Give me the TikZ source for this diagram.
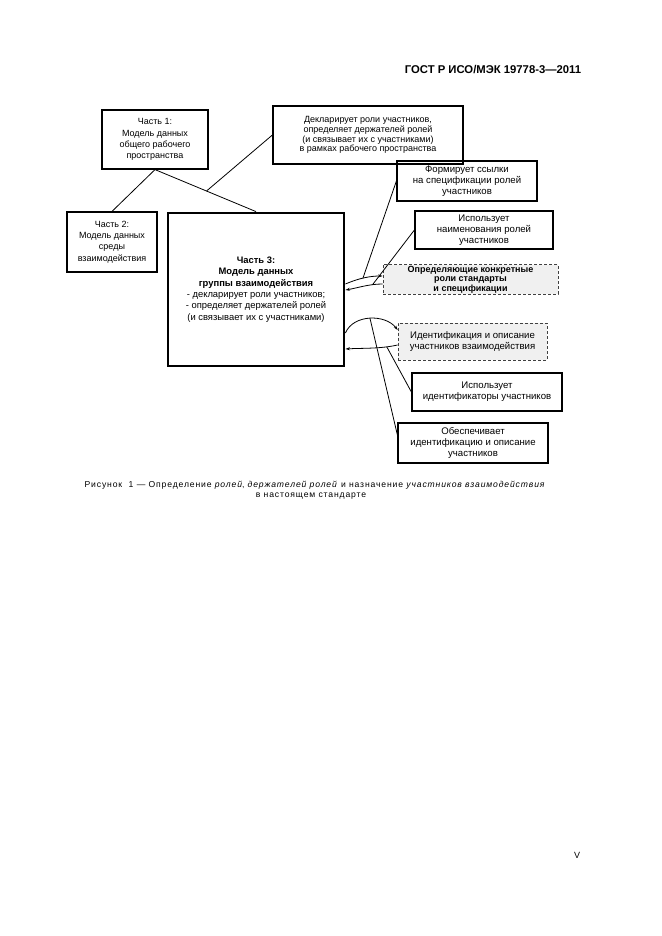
\documentclass[tikz,border=0pt]{standalone}
\usepackage{fontspec}
\setmainfont{Liberation Sans}
\newfontfamily\capfont[LetterSpace=10]{Liberation Sans}
\usetikzlibrary{arrows.meta,positioning}

\begin{document}
\begin{tikzpicture}[x=1pt,y=-1pt,
  box/.style={draw, line width=1.2pt, align=center, inner sep=1pt,
    font=\fontsize{9.6}{10.7}\selectfont},
  std/.style={box, draw=black!75, fill=black!6, line width=0.8pt,
    dash pattern=on 3pt off 2pt},
  link/.style={line width=0.8pt},
  arr/.style={link, -{Stealth[length=4.5pt,width=3pt]}}]
  \useasboundingbox (0,0) rectangle (661,936);
  %header
  \node[font=\bfseries\fontsize{11.3}{13}\selectfont] (gost) at (493,70)
    {ГОСТ Р ИСО/МЭК 19778-3—2011};

  %parts
  \node[box, font=\fontsize{9}{11.3}\selectfont, minimum width=106, minimum height=59] (p1) at (155,139.5)
    {Часть 1:\\Модель данных\\общего рабочего\\пространства};
  \node[box, font=\fontsize{9}{11.3}\selectfont, minimum width=90, minimum height=60] (p2) at (112,242)
    {Часть 2:\\Модель данных\\среды\\взаимодействия};
  \node[box, font=\fontsize{9.4}{11.3}\selectfont, line width=2.8pt, minimum width=176, minimum height=153] (p3) at (256,289.5)
    {\textbf{Часть 3:}\\\textbf{Модель данных}\\\textbf{группы взаимодействия}\\
     - декларирует роли участников;\\- определяет держателей ролей\\
     (и связывает их с участниками)};
  \node[box, font=\fontsize{9}{9.8}\selectfont, minimum width=190, minimum height=58] (decl) at (368,135)
    {Декларирует роли участников,\\определяет держателей ролей\\
     (и связывает их с участниками)\\в рамках рабочего пространства};

  %right side
  \node[box, minimum width=140, minimum height=40] (fr) at (467,181)
    {Формирует ссылки\\на спецификации ролей\\участников};
  \node[box, minimum width=138, minimum height=38] (un) at (484,230)
    {Использует\\наименования ролей\\участников};
  \node[std, font=\fontsize{9}{9.6}\selectfont, minimum width=175, minimum height=29] (s1) at (470.5,279.5)
    {\textbf{Определяющие конкретные}\\\textbf{роли стандарты}\\\textbf{и спецификации}};
  \node[std, minimum width=149, minimum height=37] (s2) at (472.5,341.5)
    {Идентификация и описание\\участников взаимодействия};
  \node[box, minimum width=150, minimum height=38] (ui) at (487,392)
    {Использует\\идентификаторы участников};
  \node[box, minimum width=150, minimum height=40] (pv) at (473,443)
    {Обеспечивает\\идентификацию и описание\\участников};

  %links
  \draw[link] (p1.south) -- (p2.north);
  \draw[link] (p1.south) -- coordinate[pos=0.51] (j) (p3.north);
  \draw[link] (decl.west) -- (j);

  \draw[arr] (p3.east |- 0,284) .. controls +(14,-6) and +(-12,0) .. (s1.west |- 0,276)
    coordinate[pos=0.45] (u1);
  \draw[arr] (s1.west |- 0,284) .. controls +(-14,0) and +(12,-2) .. (p3.east |- 0,290)
    coordinate[pos=0.25] (u2);
  \draw[link] (fr.west) -- (u1);
  \draw[link] (un.west) -- (u2);

  \draw[arr] (p3.east |- 0,333) .. controls +(8,-19) and +(-12,-16) .. (s2.west |- 0,330)
    coordinate[pos=0.5] (u3);
  \draw[arr] (s2.west |- 0,345) .. controls +(-18,4) and +(16,-1) .. (p3.east |- 0,349)
    coordinate[pos=0.2] (u4);
  \draw[link] (ui.west) -- (u4);
  \draw[link] (pv.west |- 0,435) -- (u3);

  %caption
  \node[font=\capfont\fontsize{8.6}{10}\selectfont] (cap1) at (315,485)
    {Рисунок~~1 — Определение \textit{ролей}, \textit{держателей ролей} и назначение \textit{участников взаимодействия}};
  \node[font=\capfont\fontsize{8.6}{10}\selectfont] (cap2) at (311,496)
    {в настоящем стандарте};
  \node[font=\fontsize{9}{10}\selectfont] (page) at (577,855) {V};
\end{tikzpicture}
\end{document}
